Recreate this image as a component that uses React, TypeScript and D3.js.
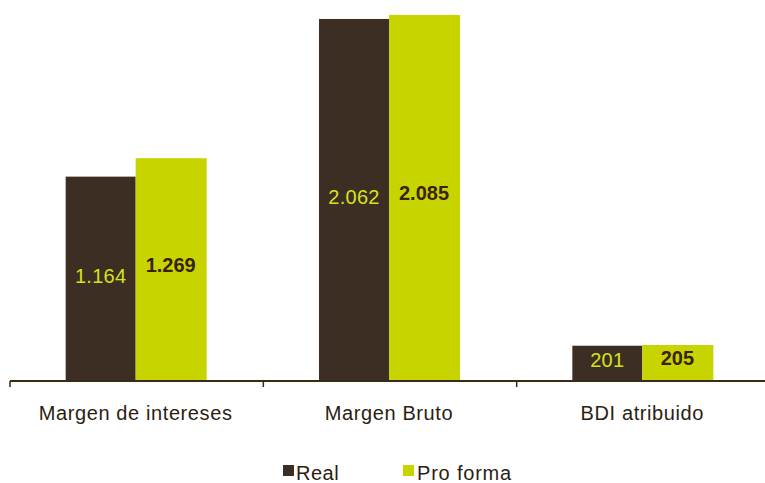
import React from "react";
import * as d3 from "d3";

const categories = ["Margen de intereses", "Margen Bruto", "BDI atribuido"];
const realValues = [1164, 2062, 201];
const proFormaValues = [1269, 2085, 205];
const realLabels = ["1.164", "2.062", "201"];
const proFormaLabels = ["1.269", "2.085", "205"];
const seriesNames = ["Real", "Pro forma"];

const W = 765;
const H = 483;
const DARK = "#3D2E23";
const GREEN = "#C8D400";

export default function App() {
  const baseY = 381;
  const x = d3.scaleBand<string>().domain(categories).range([10, 770]).paddingInner(0).paddingOuter(0);
  const y = d3.scaleLinear().domain([0, 2170]).range([baseY, 0]);
  const barW = 70;

  const ticks = [10, ...categories.map((c) => (x(c) as number) + x.bandwidth())];

  return (
    <svg width={W} height={H} style={{ position: "absolute", left: 0, top: 0 }} fontFamily="'Liberation Sans', Arial, sans-serif">
      <rect width={W} height={H} fill="#fff" />
      {categories.map((c, i) => {
        const cx = (x(c) as number) + x.bandwidth() / 2 - 1;
        const yr = y(realValues[i]);
        const yp = y(proFormaValues[i]);
        return (
          <g key={c}>
            <rect x={cx - barW} y={yr} width={barW} height={baseY - yr} fill={DARK} />
            <rect x={cx} y={yp} width={barW + 1} height={baseY - yp} fill={GREEN} />
            <text x={cx - barW / 2} y={(yr + baseY) / 2 - 3} dy="0.35em" textAnchor="middle" fill="#D8E21A" fontSize={20} letterSpacing={0.3}>
              {realLabels[i]}
            </text>
            <text x={cx + barW / 2} y={(yp + baseY) / 2 - 5} dy="0.35em" textAnchor="middle" fill="#3A2208" fontSize={20} fontWeight="bold">
              {proFormaLabels[i]}
            </text>
            <text x={cx} y={420} textAnchor="middle" fill="#2A1E12" fontSize={20} letterSpacing={0.6}>
              {c}
            </text>
          </g>
        );
      })}
      <line x1={10} x2={W} y1={baseY} y2={baseY} stroke="#3A2A10" strokeWidth={2} />
      {ticks.map((t, i) => (
        <line key={i} x1={t} x2={t} y1={baseY} y2={baseY + 6} stroke="#3A2A10" strokeWidth={1.5} />
      ))}
      <g>
        <rect x={283} y={465} width={11} height={11} fill={DARK} />
        <text x={296} y={480} fill="#2A1E12" fontSize={20} letterSpacing={0.5}>{seriesNames[0]}</text>
        <rect x={403} y={465} width={11} height={11} fill={GREEN} />
        <text x={417} y={480} fill="#2A1E12" fontSize={20} letterSpacing={0.8}>{seriesNames[1]}</text>
      </g>
    </svg>
  );
}
